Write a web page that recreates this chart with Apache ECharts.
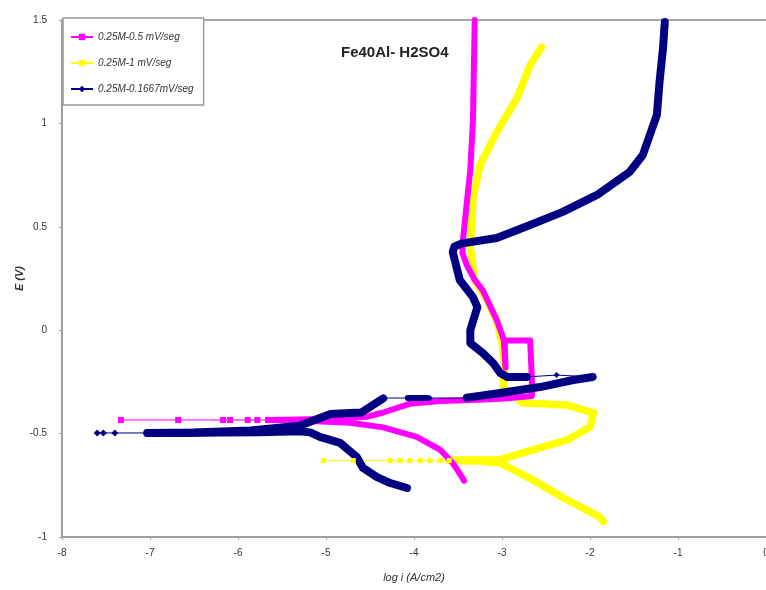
<!DOCTYPE html>
<html>
<head>
<meta charset="utf-8">
<script src="https://cdn.jsdelivr.net/npm/echarts@6/dist/echarts.min.js"></script>
<style>html,body{margin:0;padding:0;background:#fff}#c{width:766px;height:590px}</style>
</head>
<body>
<div id="c"></div>
<script>
// ---- data (x = log i (A/cm2), y = E (V)) ----
const seriesNames = ['0.25M-0.5 mV/seg', '0.25M-1 mV/seg', '0.25M-0.1667mV/seg'];
const xTicks = [-8, -7, -6, -5, -4, -3, -2, -1, 0];
const yTicks = [-1, -0.5, 0, 0.5, 1, 1.5];

// 0.25M-0.5 mV/seg (magenta)
const magentaCathodic = [[-3.43,-0.728],[-3.50,-0.680],[-3.56,-0.642],[-3.70,-0.579],[-3.97,-0.516],[-4.35,-0.470],[-4.73,-0.448],[-5.30,-0.437],[-5.66,-0.434]];
const magentaSpike = [[-5.66,-0.434],[-5.78,-0.434],[-5.89,-0.434],[-6.09,-0.434],[-6.17,-0.434],[-6.68,-0.434],[-7.33,-0.434]];
const magentaAnodic = [[-5.66,-0.434],[-5.30,-0.432],[-4.95,-0.428],[-4.53,-0.418],[-4.35,-0.398],[-4.05,-0.356],[-3.70,-0.342],[-3.33,-0.338],[-2.97,-0.330],[-2.66,-0.318],[-2.66,-0.240],[-2.67,-0.144],[-2.68,-0.050],[-2.97,-0.050],[-2.96,-0.180],[-2.98,-0.050],[-2.99,-0.033],[-3.06,0.049],[-3.14,0.122],[-3.22,0.194],[-3.31,0.243],[-3.40,0.315],[-3.45,0.373],[-3.44,0.451],[-3.40,0.615],[-3.36,0.775],[-3.33,1.016],[-3.31,1.500]];

// 0.25M-1 mV/seg (yellow)
const yellowCathodic = [[-1.85,-0.925],[-1.89,-0.903],[-2.26,-0.821],[-2.65,-0.724],[-3.02,-0.642],[-3.25,-0.632],[-3.60,-0.630]];
const yellowSpike = [[-3.60,-0.630],[-3.70,-0.630],[-3.82,-0.630],[-3.93,-0.630],[-4.05,-0.630],[-4.16,-0.630],[-4.27,-0.630],[-4.69,-0.630],[-5.03,-0.630]];
const yellowAnodic = [[-3.60,-0.628],[-3.25,-0.628],[-3.02,-0.626],[-2.65,-0.579],[-2.26,-0.531],[-2.00,-0.468],[-1.96,-0.400],[-2.26,-0.362],[-2.76,-0.352],[-2.99,-0.275],[-2.97,-0.178],[-2.99,-0.081],[-3.06,0.049],[-3.17,0.146],[-3.31,0.243],[-3.36,0.397],[-3.33,0.639],[-3.25,0.799],[-3.06,0.958],[-2.83,1.123],[-2.68,1.282],[-2.55,1.369]];

// 0.25M-0.1667mV/seg (navy)
const navyCathodic = [[-4.08,-0.763],[-4.27,-0.739],[-4.42,-0.710],[-4.58,-0.666],[-4.65,-0.613],[-4.84,-0.545],[-5.07,-0.516],[-5.18,-0.494],[-5.30,-0.489],[-5.75,-0.493],[-6.20,-0.495],[-6.66,-0.497],[-7.03,-0.497]];
const navySpike = [[-7.03,-0.497],[-7.40,-0.497],[-7.53,-0.497],[-7.60,-0.497]];
const navyAnodic = [[-7.03,-0.497],[-6.50,-0.495],[-5.86,-0.485],[-5.30,-0.462],[-4.95,-0.405],[-4.73,-0.400],[-4.60,-0.398],[-4.35,-0.330]];
const navyCross = [[-4.35,-0.328],[-4.05,-0.328],[-3.93,-0.328],[-3.82,-0.328],[-3.40,-0.328]];
const navyBlob = [[-4.07,-0.328],[-3.85,-0.328]];
const navyAnodic2 = [[-3.40,-0.326],[-3.02,-0.304],[-2.57,-0.275],[-2.19,-0.241],[-1.97,-0.226]];
const navyReturn = [[-1.97,-0.226],[-2.38,-0.217],[-2.72,-0.226]];
const navyPassive = [[-2.72,-0.226],[-2.94,-0.226],[-3.02,-0.207],[-3.10,-0.159],[-3.22,-0.110],[-3.36,-0.062],[-3.36,0.000],[-3.28,0.112],[-3.33,0.160],[-3.48,0.243],[-3.56,0.378],[-3.54,0.405],[-3.45,0.420],[-3.06,0.446],[-2.68,0.509],[-2.31,0.572],[-1.92,0.654],[-1.55,0.765],[-1.40,0.847],[-1.32,0.944],[-1.24,1.041],[-1.21,1.200],[-1.17,1.365],[-1.15,1.490]];

const colors = ['#FF00FF', '#FFFF00', '#000080'];

function thin(name, data, color, symbol, size) {
  return { name, type: 'line', data, symbol, symbolSize: size, showSymbol: true,
    lineStyle: { color, width: 1 }, itemStyle: { color, borderWidth: 0 }, silent: true };
}
function thick(name, data, color, width) {
  return { name, type: 'line', data, showSymbol: false, symbol: 'none',
    lineStyle: { color, width, cap: 'round', join: 'round' }, itemStyle: { color }, silent: true };
}

const series = [
  thin(seriesNames[1], yellowSpike, colors[1], 'rect', 5),
  thick(seriesNames[1], yellowCathodic, colors[1], 7.5),
  thick(seriesNames[1], yellowAnodic, colors[1], 7.5),
  thin(seriesNames[0], magentaSpike, colors[0], 'rect', 6),
  thick(seriesNames[0], magentaCathodic, colors[0], 6),
  thick(seriesNames[0], magentaAnodic, colors[0], 6),
  thin(seriesNames[2], navySpike, colors[2], 'diamond', 7),
  thin(seriesNames[2], navyCross, colors[2], 'diamond', 6),
  thin(seriesNames[2], navyReturn, colors[2], 'diamond', 6),
  thick(seriesNames[2], navyCathodic, colors[2], 8),
  thick(seriesNames[2], navyAnodic, colors[2], 8),
  thick(seriesNames[2], navyBlob, colors[2], 6),
  thick(seriesNames[2], navyAnodic2, colors[2], 8),
  thick(seriesNames[2], navyPassive, colors[2], 8)
];

const chart = echarts.init(document.getElementById('c'), null, { renderer: 'canvas' });
chart.setOption({
  animation: false,
  backgroundColor: '#fff',
  title: {
    text: 'Fe40Al- H2SO4', left: 336, top: 40,
    textStyle: { fontFamily: 'Liberation Sans, Arial', fontWeight: 'bold', fontSize: 15, color: '#222' }
  },
  legend: {
    data: seriesNames, orient: 'vertical', left: 63, top: 18,
    padding: [12, 10, 9, 7], itemGap: 12, itemWidth: 22, itemHeight: 8,
    backgroundColor: '#fff', borderColor: '#9a9a9a', borderWidth: 1.5,
    textStyle: { fontFamily: 'Liberation Sans, Arial', fontStyle: 'italic', fontSize: 10, color: '#333', lineHeight: 14 },
    selectedMode: false
  },
  grid: { left: 62, right: 0, top: 20, bottom: 53, containLabel: false, outerBoundsMode: 'none' },
  xAxis: [{
    type: 'value', min: xTicks[0], max: xTicks[xTicks.length - 1], interval: 1,
    name: 'log i (A/cm2)', nameLocation: 'middle', nameGap: 35,
    nameTextStyle: { fontFamily: 'Liberation Sans, Arial', fontStyle: 'italic', fontSize: 11, color: '#333' },
    axisLine: { onZero: false, lineStyle: { color: '#a0a0a0', width: 2 } },
    axisTick: { show: true, length: 3, lineStyle: { color: '#a0a0a0' } },
    axisLabel: { margin: 11, fontFamily: 'Liberation Sans, Arial', fontSize: 10, color: '#333' },
    splitLine: { show: false }
  }, {
    type: 'value', position: 'top', min: xTicks[0], max: xTicks[xTicks.length - 1],
    axisLine: { onZero: false, lineStyle: { color: '#a8a8a8', width: 2 } },
    axisTick: { show: false }, axisLabel: { show: false }, splitLine: { show: false }
  }],
  yAxis: {
    type: 'value', min: yTicks[0], max: yTicks[yTicks.length - 1], interval: 0.5,
    name: 'E (V)', nameLocation: 'middle', nameGap: 37, nameMoveOverlap: false,
    nameTextStyle: { fontFamily: 'Liberation Sans, Arial', fontStyle: 'italic', fontWeight: 'bold', fontSize: 11, color: '#333' },
    axisLine: { show: true, onZero: false, lineStyle: { color: '#a0a0a0', width: 2 } },
    axisTick: { show: true, length: 3, lineStyle: { color: '#a0a0a0' } },
    axisLabel: { margin: 15, fontFamily: 'Liberation Sans, Arial', fontSize: 10, color: '#333' },
    splitLine: { show: false }
  },
  series
});
</script>
</body>
</html>
